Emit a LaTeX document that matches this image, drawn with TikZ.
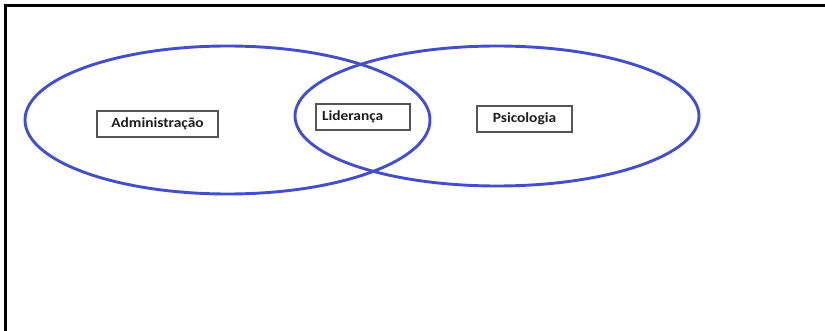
\documentclass[tikz,border=0pt]{standalone}
\usepackage{fontspec}
\usetikzlibrary{shapes.geometric}
\setmainfont{Carlito}[FakeStretch=1.1]
\definecolor{vennblue}{RGB}{66,78,204}
\definecolor{boxgray}{RGB}{85,85,85}
\definecolor{txt}{RGB}{30,30,30}
\tikzset{
  venn/.style={draw=vennblue, line width=2.9pt},
  lbl/.style={draw=boxgray, line width=1.2pt, fill=white, font=\fontsize{14}{16}\selectfont\bfseries, text=txt, inner sep=0pt, minimum height=26pt},
  frameline/.style={draw=black, line width=3pt}
}
\begin{document}
\begin{tikzpicture}[x=1pt,y=-1pt]
\useasboundingbox (0,0) rectangle (825,331);
\coordinate (tl) at (5,6);
\coordinate (tr) at (826,6);
\coordinate (bl) at (5,332);
\draw[frameline] (tr) -- (tl) -- (bl);
\node[venn, ellipse, draw, minimum width=405pt, minimum height=148pt, inner sep=0pt] (adm) at (227.5,120) {};
\node[venn, ellipse, draw, minimum width=404pt, minimum height=140pt, inner sep=0pt] (psi) at (497,116) {};
\node[lbl, minimum width=121pt] (a) at (157.5,124) {Administração};
\node[lbl, minimum width=94pt, text width=82pt, align=left] (l) at (363,117) {Liderança};
\node[lbl, minimum width=95pt] (p) at (524.5,119) {Psicologia};
\end{tikzpicture}
\end{document}
